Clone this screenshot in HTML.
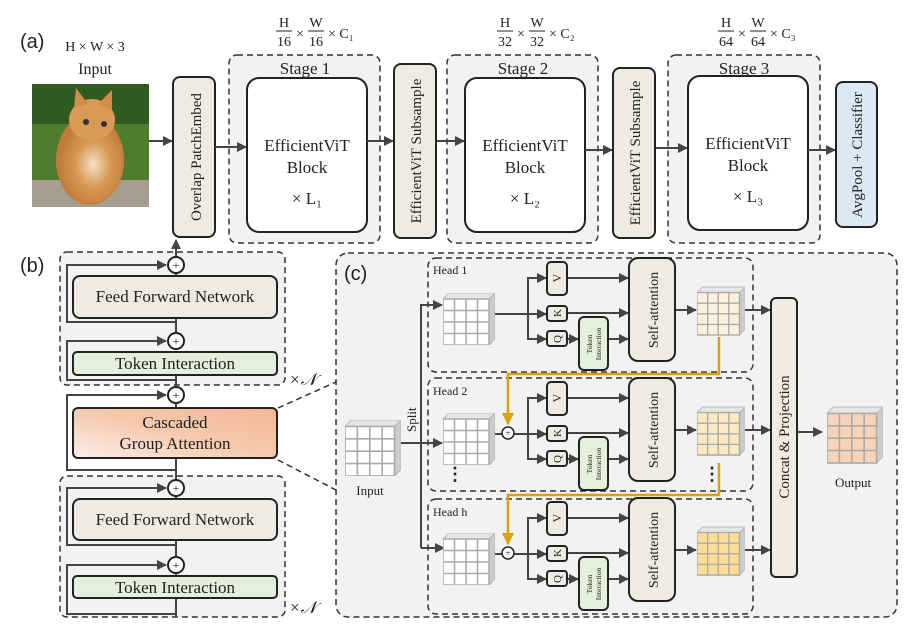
<!DOCTYPE html>
<html><head><meta charset="utf-8"><style>
body{margin:0;background:#fff}
svg{display:block}
text{font-family:"Liberation Serif",serif;fill:#222}
.s{font-family:"Liberation Sans",sans-serif}
</style></head><body>
<svg width="912" height="627" viewBox="0 0 912 627" xmlns="http://www.w3.org/2000/svg">
<defs>
<marker id="a" viewBox="0 0 10 10" refX="9" refY="5" markerWidth="5" markerHeight="5" orient="auto"><path d="M0,0L10,5L0,10z" fill="#444"/></marker>
<marker id="g" viewBox="0 0 10 10" refX="9" refY="5" markerWidth="5" markerHeight="5" orient="auto"><path d="M0,0L10,5L0,10z" fill="#d9a20a"/></marker>
<symbol id="cube" viewBox="0 0 52 52">
<polygon points="0,6 6,0 52,0 46,6" fill="#e6e6e6" stroke="#bbb" stroke-width="1"/>
<polygon points="46,6 52,0 52,46 46,52" fill="#ccc" stroke="#bbb" stroke-width="1"/>
<rect x="0" y="6" width="46" height="46" fill="inherit" stroke="#aaa" stroke-width="1.5"/>
<path d="M11.5,6V52M23,6V52M34.5,6V52M0,17.5H46M0,29H46M0,40.5H46" stroke="#aaa" stroke-width="1.5"/>
</symbol>
<linearGradient id="cga" x1="0" y1="1" x2="1" y2="0"><stop offset="0" stop-color="#fbeee8"/><stop offset=".5" stop-color="#f6c9ac"/><stop offset="1" stop-color="#f3b896"/></linearGradient>
<radialGradient id="cat" cx=".55" cy=".55" r=".5"><stop offset="0" stop-color="#f4e2c8"/><stop offset=".5" stop-color="#d89a55"/><stop offset="1" stop-color="#c27a3a"/></radialGradient>
</defs>

<!-- (a) -->
<text class="s" x="20" y="48" font-size="20">(a)</text>
<text x="95" y="51" font-size="14" text-anchor="middle">H × W × 3</text>
<text x="95" y="74" font-size="16" text-anchor="middle">Input</text>
<rect x="32" y="84" width="117" height="123" fill="#4f7d2e"/>
<rect x="32" y="84" width="117" height="40" fill="#2f5a20"/>
<rect x="32" y="180" width="117" height="27" fill="#a59d8e"/>
<ellipse cx="90" cy="160" rx="34" ry="45" fill="url(#cat)"/>
<ellipse cx="92" cy="120" rx="23" ry="21" fill="#d99a58"/>
<polygon points="74,108 76,88 88,104" fill="#d28c4c"/><polygon points="98,104 112,90 112,110" fill="#d28c4c"/>
<circle cx="86" cy="122" r="3" fill="#333"/><circle cx="104" cy="124" r="3" fill="#333"/>
<line x1="149" y1="141" x2="172" y2="141" stroke="#444" stroke-width="2" marker-end="url(#a)"/>
<rect x="173" y="77" width="42" height="160" rx="7" fill="#eeebe2" stroke="#222" stroke-width="2"/>
<text transform="translate(201,157) rotate(-90)" font-size="15" text-anchor="middle">Overlap PatchEmbed</text>

<g font-size="14">
<text x="284" y="27" text-anchor="middle">H</text><line x1="276" y1="31" x2="292" y2="31" stroke="#222"/><text x="284" y="46" text-anchor="middle">16</text>
<text x="300" y="38" text-anchor="middle">×</text>
<text x="316" y="27" text-anchor="middle">W</text><line x1="308" y1="31" x2="324" y2="31" stroke="#222"/><text x="316" y="46" text-anchor="middle">16</text>
<text x="328" y="38">× C₁</text>
</g>
<g font-size="14">
<text x="505" y="27" text-anchor="middle">H</text><line x1="497" y1="31" x2="513" y2="31" stroke="#222"/><text x="505" y="46" text-anchor="middle">32</text>
<text x="521" y="38" text-anchor="middle">×</text>
<text x="537" y="27" text-anchor="middle">W</text><line x1="529" y1="31" x2="545" y2="31" stroke="#222"/><text x="537" y="46" text-anchor="middle">32</text>
<text x="549" y="38">× C₂</text>
</g>
<g font-size="14">
<text x="726" y="27" text-anchor="middle">H</text><line x1="718" y1="31" x2="734" y2="31" stroke="#222"/><text x="726" y="46" text-anchor="middle">64</text>
<text x="742" y="38" text-anchor="middle">×</text>
<text x="758" y="27" text-anchor="middle">W</text><line x1="750" y1="31" x2="766" y2="31" stroke="#222"/><text x="758" y="46" text-anchor="middle">64</text>
<text x="770" y="38">× C₃</text>
</g>

<g stroke="#333" stroke-width="1.5" stroke-dasharray="6,4" fill="#f2f2f2">
<rect x="229" y="55" width="151" height="188" rx="8"/>
<rect x="447" y="55" width="151" height="188" rx="8"/>
<rect x="668" y="55" width="152" height="188" rx="8"/>
</g>
<text x="305" y="74" font-size="17" text-anchor="middle">Stage 1</text>
<text x="523" y="74" font-size="17" text-anchor="middle">Stage 2</text>
<text x="744" y="74" font-size="17" text-anchor="middle">Stage 3</text>
<g fill="#fff" stroke="#222" stroke-width="2">
<rect x="247" y="78" width="120" height="154" rx="12"/>
<rect x="465" y="78" width="120" height="154" rx="12"/>
<rect x="688" y="76" width="120" height="154" rx="12"/>
</g>
<g font-size="17" text-anchor="middle">
<text x="307" y="151">EfficientViT</text><text x="307" y="173">Block</text><text x="307" y="204">× L₁</text>
<text x="525" y="151">EfficientViT</text><text x="525" y="173">Block</text><text x="525" y="204">× L₂</text>
<text x="748" y="149">EfficientViT</text><text x="748" y="171">Block</text><text x="748" y="202">× L₃</text>
</g>
<g stroke="#444" stroke-width="2" marker-end="url(#a)">
<line x1="215" y1="147" x2="246" y2="147"/>
<line x1="367" y1="141" x2="393" y2="141"/>
<line x1="436" y1="141" x2="464" y2="141"/>
<line x1="585" y1="150" x2="612" y2="150"/>
<line x1="655" y1="148" x2="687" y2="148"/>
<line x1="808" y1="150" x2="835" y2="150"/>
</g>
<rect x="394" y="64" width="42" height="174" rx="7" fill="#eeebe2" stroke="#222" stroke-width="2"/>
<text transform="translate(421,151) rotate(-90)" font-size="15" text-anchor="middle">EfficientViT Subsample</text>
<rect x="613" y="68" width="42" height="170" rx="7" fill="#eeebe2" stroke="#222" stroke-width="2"/>
<text transform="translate(640,153) rotate(-90)" font-size="15" text-anchor="middle">EfficientViT Subsample</text>
<rect x="836" y="82" width="41" height="145" rx="7" fill="#dde8f5" stroke="#222" stroke-width="2"/>
<text transform="translate(862,155) rotate(-90)" font-size="15" text-anchor="middle">AvgPool + Classifier</text>

<!-- (b) -->
<text class="s" x="20" y="272" font-size="20">(b)</text>
<g stroke="#333" stroke-width="1.5" stroke-dasharray="6,4" fill="#f2f2f2">
<rect x="60" y="252" width="225" height="133" rx="7"/>
<rect x="60" y="476" width="225" height="141" rx="7"/>
</g>
<g stroke="#444" stroke-width="2" fill="none">
<line x1="176" y1="257" x2="176" y2="240" marker-end="url(#a)"/>
<path d="M176,318V333M176,375V387M176,458V380" />
<polyline points="176,322 67,322 67,265 166,265" marker-end="url(#a)"/>
<polyline points="176,380 67,380 67,341 166,341" marker-end="url(#a)"/>
<polyline points="176,470 67,470 67,395 166,395" marker-end="url(#a)"/>
<path d="M176,617V598M176,576V573M176,557V540M176,499V496M176,480V458"/>
<polyline points="176,545 67,545 67,488 166,488" marker-end="url(#a)"/>
<polyline points="176,614 67,614 67,565 166,565" marker-end="url(#a)"/>
<line x1="176" y1="276" x2="176" y2="274"/>
</g>
<rect x="73" y="276" width="204" height="42" rx="7" fill="#eeebe2" stroke="#222" stroke-width="2"/>
<text x="175" y="302" font-size="17" text-anchor="middle">Feed Forward Network</text>
<rect x="73" y="352" width="204" height="23" rx="4" fill="#e5f0dc" stroke="#222" stroke-width="2"/>
<text x="175" y="369" font-size="17" text-anchor="middle">Token Interaction</text>
<rect x="73" y="408" width="204" height="50" rx="5" fill="url(#cga)" stroke="#222" stroke-width="2"/>
<text x="175" y="428" font-size="17" text-anchor="middle">Cascaded</text>
<text x="175" y="449" font-size="17" text-anchor="middle">Group Attention</text>
<rect x="73" y="499" width="204" height="41" rx="7" fill="#eeebe2" stroke="#222" stroke-width="2"/>
<text x="175" y="525" font-size="17" text-anchor="middle">Feed Forward Network</text>
<rect x="73" y="576" width="204" height="22" rx="4" fill="#e5f0dc" stroke="#222" stroke-width="2"/>
<text x="175" y="593" font-size="17" text-anchor="middle">Token Interaction</text>
<g fill="#fff" stroke="#222" stroke-width="2">
<circle cx="176" cy="265" r="8"/><circle cx="176" cy="341" r="8"/><circle cx="176" cy="395" r="8"/><circle cx="176" cy="488" r="8"/><circle cx="176" cy="565" r="8"/>
</g>
<g font-size="12" text-anchor="middle" class="s"><text x="176" y="269">+</text><text x="176" y="345">+</text><text x="176" y="399">+</text><text x="176" y="492">+</text><text x="176" y="569">+</text></g>
<text x="289" y="385" font-size="17" font-style="italic">×𝒩</text>
<text x="289" y="613" font-size="17" font-style="italic">×𝒩</text>
<g stroke="#333" stroke-width="1.5" stroke-dasharray="6,4">
<line x1="278" y1="408" x2="336" y2="382"/><line x1="278" y1="460" x2="336" y2="490"/>
</g>

<!-- (c) -->
<rect x="336" y="253" width="561" height="364" rx="12" fill="#f2f2f2" stroke="#333" stroke-width="1.5" stroke-dasharray="6,4"/>
<text class="s" x="344" y="280" font-size="20">(c)</text>
<g stroke="#333" stroke-width="1.5" stroke-dasharray="6,4" fill="#f2f2f2">
<rect x="428" y="258" width="325" height="114" rx="8"/>
<rect x="428" y="378" width="325" height="113" rx="8"/>
<rect x="428" y="499" width="325" height="115" rx="8"/>
</g>
<use href="#cube" x="345" y="420" width="56" height="56" fill="#fff"/>
<text x="370" y="495" font-size="13" text-anchor="middle">Input</text>
<text transform="translate(416,432) rotate(-90)" font-size="13">Split</text>
<g stroke="#444" stroke-width="2" fill="none">
<line x1="401" y1="443" x2="421" y2="443"/>
<polyline points="421,548 421,305 442,305" marker-end="url(#a)"/>
<line x1="421" y1="443" x2="442" y2="443" marker-end="url(#a)"/>
<line x1="421" y1="548" x2="444" y2="548" marker-end="url(#a)"/>
</g>

<g id="h1">
<text x="433" y="274" font-size="12">Head 1</text>
<use href="#cube" x="443" y="293" width="52" height="52" fill="#fff"/>
<g stroke="#444" stroke-width="2" fill="none">
<line x1="495" y1="314" x2="528" y2="314"/>
<polyline points="528,314 528,278 546,278" marker-end="url(#a)"/>
<line x1="528" y1="314" x2="546" y2="314" marker-end="url(#a)"/>
<polyline points="528,314 528,339 546,339" marker-end="url(#a)"/>
<line x1="567" y1="278" x2="628" y2="278" marker-end="url(#a)"/>
<line x1="567" y1="313" x2="628" y2="313" marker-end="url(#a)"/>
<line x1="567" y1="339" x2="578" y2="339" marker-end="url(#a)"/>
<line x1="608" y1="339" x2="628" y2="339" marker-end="url(#a)"/>
<line x1="675" y1="310" x2="696" y2="310" marker-end="url(#a)"/>
<line x1="744" y1="310" x2="770" y2="310" marker-end="url(#a)"/>
</g>
<rect x="547" y="262" width="20" height="33" rx="4" fill="#eeebe2" stroke="#222" stroke-width="2"/>
<rect x="547" y="306" width="20" height="15" rx="3" fill="#eeebe2" stroke="#222" stroke-width="2"/>
<rect x="547" y="331" width="20" height="15" rx="3" fill="#eeebe2" stroke="#222" stroke-width="2"/>
<text transform="translate(561,278) rotate(-90)" font-size="12" text-anchor="middle">V</text>
<text transform="translate(561,313) rotate(-90)" font-size="11" text-anchor="middle">K</text>
<text transform="translate(561,339) rotate(-90)" font-size="11" text-anchor="middle">Q</text>
<rect x="579" y="317" width="29" height="53" rx="5" fill="#e5f0dc" stroke="#222" stroke-width="2"/>
<text transform="translate(592,344) rotate(-90)" font-size="7.5" text-anchor="middle">Token</text>
<text transform="translate(601,344) rotate(-90)" font-size="7.5" text-anchor="middle">Interaction</text>
<rect x="629" y="258" width="46" height="103" rx="9" fill="#eeebe2" stroke="#222" stroke-width="2"/>
<text transform="translate(658,310) rotate(-90)" font-size="14" text-anchor="middle">Self-attention</text>
<use href="#cube" x="697" y="285" width="48" height="52" fill="#fdf1dc"/>
</g>
<use href="#h1" y="120"/>
<use href="#h1" y="240"/>
<rect x="431" y="383" width="45" height="14" fill="#f2f2f2"/>
<rect x="431" y="503" width="45" height="14" fill="#f2f2f2"/>
<text x="433" y="395" font-size="12">Head 2</text>
<text x="433" y="516" font-size="12">Head h</text>
<use href="#cube" x="697" y="405" width="48" height="52" fill="#fde9c2"/>
<use href="#cube" x="697" y="525" width="48" height="52" fill="#fddd94"/>
<text x="455" y="480" font-size="18" text-anchor="middle" font-weight="bold">⋮</text>
<text x="712" y="480" font-size="18" text-anchor="middle" font-weight="bold">⋮</text>
<g stroke="#d9a20a" stroke-width="2.5" fill="none">
<polyline points="719,337 719,374 508,374 508,424" marker-end="url(#g)"/>
<polyline points="719,463 719,495 508,495 508,544" marker-end="url(#g)"/>
</g>
<g fill="#fff" stroke="#222" stroke-width="1.5">
<circle cx="508" cy="433" r="6"/><circle cx="508" cy="553" r="6"/>
</g>
<g font-size="9" text-anchor="middle" class="s"><text x="508" y="436">+</text><text x="508" y="556">+</text></g>

<rect x="771" y="298" width="26" height="279" rx="5" fill="#eeebe2" stroke="#222" stroke-width="2"/>
<text transform="translate(789,437) rotate(-90)" font-size="15" text-anchor="middle">Concat &amp; Projection</text>
<line x1="797" y1="432" x2="822" y2="432" stroke="#444" stroke-width="2" marker-end="url(#a)"/>
<use href="#cube" x="827" y="404" width="56" height="62" fill="#f8d3b8"/>
<text x="853" y="487" font-size="13" text-anchor="middle">Output</text>
</svg>
</body></html>
